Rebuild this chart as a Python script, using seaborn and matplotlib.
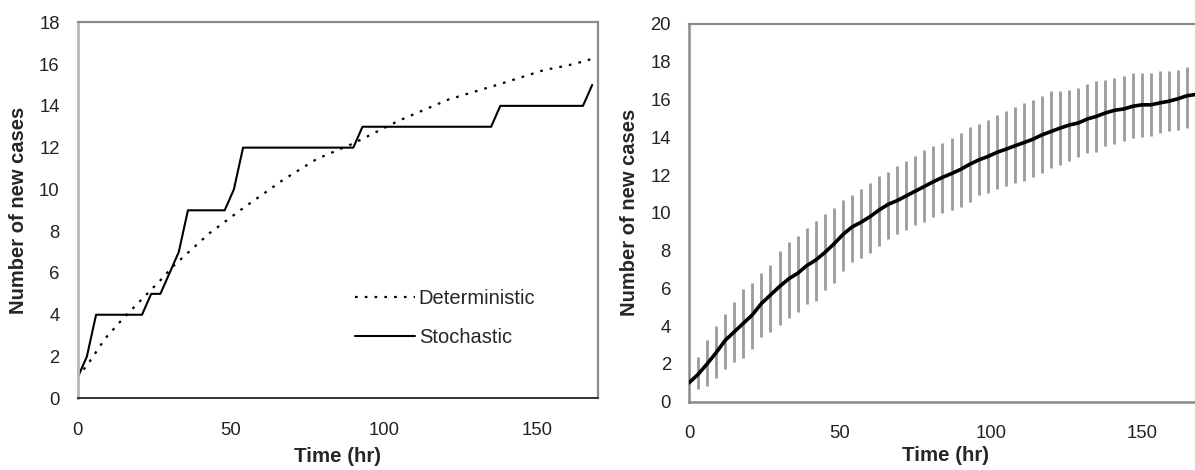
import numpy as np
import pandas as pd
import matplotlib
matplotlib.use("Agg")
import matplotlib.pyplot as plt
import seaborn as sns

# ---------------- data ----------------
# Left panel
det_time = [0, 4, 9, 15, 20, 27, 31, 36, 43, 54, 67, 78, 90, 105, 121, 138, 152, 162, 168]
det_cases = [1.0, 1.78, 2.87, 3.85, 4.6, 5.65, 6.3, 6.97, 7.9, 9.1, 10.45, 11.45, 12.2,
             13.3, 14.3, 15.05, 15.7, 16.0, 16.25]

sto_time = [0, 3, 6, 21, 24, 27, 30, 33, 36, 48, 51, 54, 90, 93, 135, 138, 165, 168]
sto_cases = [1, 2, 4, 4, 5, 5, 6, 7, 9, 9, 10, 12, 12, 13, 13, 14, 14, 15]

# Right panel
mean_time = list(range(0, 169, 3))
mean_cases = [1.0, 1.45, 2.0, 2.6, 3.25, 3.7, 4.15, 4.6, 5.2, 5.65, 6.1, 6.5, 6.8, 7.2,
              7.5, 7.9, 8.35, 8.85, 9.25, 9.5, 9.8, 10.15, 10.45, 10.65, 10.9, 11.15,
              11.4, 11.65, 11.88, 12.08, 12.3, 12.57, 12.8, 12.98, 13.2, 13.37, 13.55,
              13.72, 13.9, 14.13, 14.31, 14.49, 14.65, 14.76, 14.97, 15.11, 15.29,
              15.43, 15.5, 15.64, 15.72, 15.72, 15.82, 15.91, 16.04, 16.2, 16.27]

bar_time = list(range(3, 169, 3))
bar_upper = [2.35, 3.25, 4.0, 4.62, 5.3, 5.96, 6.28, 6.84, 7.25, 8.0, 8.48, 8.75, 9.2,
             9.55, 9.96, 10.28, 10.67, 10.93, 11.25, 11.6, 11.95, 12.14, 12.48, 12.75,
             13.0, 13.35,
             13.55, 13.69, 13.96, 14.22, 14.54, 14.72, 14.9, 15.2, 15.38, 15.61, 15.82,
             16.0, 16.18, 16.44, 16.44, 16.5, 16.59, 16.84, 16.98, 17.03, 17.16, 17.24,
             17.39, 17.39, 17.39, 17.51, 17.51, 17.56, 17.72, 17.81]
bar_lower = [0.68, 0.84, 1.24, 1.72, 2.08, 2.31, 2.79, 3.43, 3.68, 4.04, 4.44, 4.75,
             5.16, 5.33, 5.9, 6.31, 6.9, 7.38, 7.6, 7.9, 8.27, 8.62, 8.89, 9.07, 9.37,
             9.5,
             9.78, 9.99, 10.13, 10.31, 10.58, 10.93, 11.06, 11.24, 11.41, 11.56, 11.7,
             11.88, 12.12, 12.36, 12.53, 12.76, 12.94, 13.19, 13.24, 13.55, 13.65,
             13.78, 13.96, 14.0, 14.08, 14.22, 14.31, 14.4, 14.49, 14.58]

xticks = [0, 50, 100, 150]
yticks_left = list(range(0, 19, 2))
yticks_right = list(range(0, 21, 2))
xlabel = "Time (hr)"
ylabel = "Number of new cases"

# ---------------- figure ----------------
sns.set_style("white")
plt.rcParams['font.family'] = ['Liberation Sans', 'DejaVu Sans']

W, H = 1195, 470
fig = plt.figure(figsize=(W / 100, H / 100), dpi=100)

def px_axes(l, r, t, b):
    return fig.add_axes([l / W, 1 - b / H, (r - l) / W, (b - t) / H])

axL = px_axes(77.7, 598.3, 22.3, 398.3)
axR = px_axes(689, 1202, 24, 401.7)

det_df = pd.DataFrame({"t": det_time, "v": det_cases})
sto_df = pd.DataFrame({"t": sto_time, "v": sto_cases})
mean_df = pd.DataFrame({"t": mean_time, "v": mean_cases})

sns.lineplot(data=det_df, x="t", y="v", ax=axL, color="black", linewidth=1.6,
             linestyle=(0, (1.2, 3.2)), estimator=None, sort=False, label="Deterministic")
sns.lineplot(data=sto_df, x="t", y="v", ax=axL, color="black", linewidth=1.5,
             estimator=None, sort=False, label="Stochastic")

axR.vlines(bar_time, bar_lower, bar_upper, color="#9a9a9a", linewidth=2.0, zorder=2)
sns.lineplot(data=mean_df, x="t", y="v", ax=axR, color="black", linewidth=2.6,
             estimator=None, sort=False, zorder=3)

for ax, yt, ymax, lp in [(axL, yticks_left, 18, 6), (axR, yticks_right, 20, 3)]:
    ax.set_xlim(0, 170)
    ax.set_ylim(0, ymax)
    ax.set_xticks(xticks)
    ax.set_yticks(yt)
    ax.tick_params(axis="both", labelsize=13.3, colors="#222222")
    ax.tick_params(axis="x", direction="out", length=7, width=1, color="#cfcfcf", pad=10)
    ax.tick_params(axis="y", direction="out", length=6, width=1, color="#808080", pad=7)
    ax.set_xlabel(xlabel, fontsize=14.8, fontweight="bold", labelpad=lp)
    ax.set_ylabel(ylabel, fontsize=14.5, fontweight="bold", labelpad=8)
    for side in ["top", "right"]:
        ax.spines[side].set_color("#8a8a8a")
        ax.spines[side].set_linewidth(1.6)

axL.spines["left"].set_color("#b8b8b8")
axL.spines["left"].set_linewidth(2.0)
axL.spines["bottom"].set_color("#333333")
axL.spines["bottom"].set_linewidth(1.4)
axR.spines["left"].set_color("#8a8a8a")
axR.spines["left"].set_linewidth(1.8)
axR.spines["bottom"].set_color("#8a8a8a")
axR.spines["bottom"].set_linewidth(1.8)

if axR.get_legend() is not None:
    axR.get_legend().remove()

leg = axL.legend(loc="lower left", bbox_to_anchor=(0.518, 0.115), frameon=False,
                 fontsize=14.5, handlelength=2.95, handletextpad=0.2, labelspacing=1.0,
                 borderaxespad=0)

fig.savefig("out.png", dpi=100)
